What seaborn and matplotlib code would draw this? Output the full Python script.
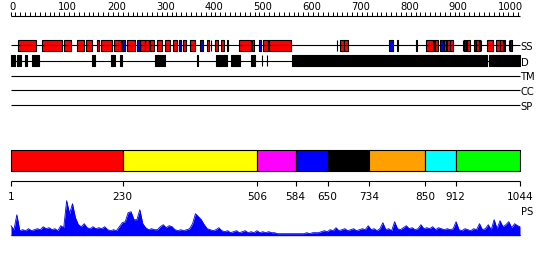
import numpy as np
import matplotlib
matplotlib.use("Agg")
import matplotlib.pyplot as plt
import matplotlib.transforms as mtrans
import seaborn as sns

# ---------------- data ----------------
seq_len = 1044
ruler_labels = [0, 100, 200, 300, 400, 500, 600, 700, 800, 900, 1000]

helix_start = [16, 64, 110, 136, 155, 177, 186, 213, 238, 266, 276, 285, 300, 317, 333, 354, 368, 402, 410,
               420, 431, 468, 494, 518, 530, 669, 675, 684, 792, 831, 851, 868, 870, 888, 894, 901, 927,
               936, 954, 964, 976, 995, 1003, 1012, 1021]
helix_end = [52, 106, 124, 150, 168, 182, 207, 226, 255, 275, 284, 293, 310, 327, 342, 359, 378, 407, 411,
             426, 438, 492, 499, 527, 575, 670, 683, 692, 793, 832, 866, 869, 876, 893, 900, 907, 928,
             942, 959, 965, 988, 1002, 1010, 1013, 1022]
strand_start = [229, 259, 345, 388, 443, 509, 776, 880, 929, 950, 959, 1023]
strand_end = [235, 265, 349, 394, 446, 513, 783, 887, 934, 954, 963, 1028]
disorder_start = [1, 13, 30, 45, 168, 206, 224, 296, 383, 421, 436, 451, 493, 515, 525, 576, 980]
disorder_end = [10, 22, 33, 58, 173, 215, 228, 317, 384, 434, 443, 470, 500, 516, 526, 976, 1044]

track_names = ["SS", "D", "TM", "CC", "SP"]

domain_bounds = [1, 230, 506, 584, 650, 734, 850, 912, 1044]
domain_colors = ["#ff0000", "#ffff00", "#ff00ff", "#0000ff", "#000000", "#ffa000", "#00ffff", "#00ff00"]

ps_values = [10, 6, 21, 5, 6, 5, 7, 5, 6, 7, 6, 9, 7, 8, 6, 7, 5, 10, 8, 35,
             22, 32, 18, 11, 9, 12, 8, 7, 9, 7, 8, 7, 9, 6, 5, 6, 5, 9, 13, 14,
             23, 24, 16, 16, 26, 12, 8, 6, 7, 6, 6, 9, 11, 8, 10, 9, 6, 5, 6, 5,
             6, 7, 12, 22, 19, 16, 11, 7, 6, 5, 6, 8, 5, 4, 5, 3, 4, 5, 3, 4,
             5, 3, 4, 3, 5, 3, 4, 3, 4, 3, 3, 2, 2, 2, 2, 2, 2, 2, 2, 2,
             2, 3, 2, 3, 3, 3, 4, 5, 4, 6, 5, 8, 5, 6, 7, 5, 6, 7, 5, 6,
             7, 6, 10, 6, 7, 5, 7, 13, 6, 7, 5, 14, 7, 6, 8, 10, 7, 8, 6, 7,
             11, 7, 8, 7, 9, 6, 8, 7, 6, 7, 6, 7, 14, 6, 5, 7, 6, 5, 7, 6,
             12, 6, 7, 11, 6, 16, 7, 15, 9, 11, 14, 8, 12, 10, 9]
ps_pos = np.append(np.arange(1, 1040, 6), seq_len)

# ---------------- style ----------------
sns.set_theme(style="white")
plt.rcParams["font.family"] = ["DejaVu Sans"]

W, H = 550, 260
fig = plt.figure(figsize=(W / 100, H / 100), dpi=100)

# pixel mapping: residue 1 -> x=11px, residue 1044 -> x=520px
px_per_res = 509 / (seq_len - 1)
x0 = 1 - 11 / px_per_res
x1 = 1 + (W - 11) / px_per_res

ax = fig.add_axes([0, 0, 1, 1])
ax.set_xlim(x0, x1)
ax.set_ylim(H, 0)
ax.axis("off")

lw = 0.8

# ---------------- ruler ----------------
ax.hlines(15.5, 0, seq_len, color="black", lw=lw)
ax.vlines(np.arange(0, seq_len, 10), 12.0, 15.5, color="black", lw=0.7)
lbl_tr = mtrans.offset_copy(ax.transData, fig=fig, x=-1.0, y=0, units="dots")
for v in ruler_labels:
    ax.text(v, 10, str(v), ha="left", va="baseline", fontsize=7.2, color="black", transform=lbl_tr)

# ---------------- tracks ----------------
track_y = [45, 60.5, 75.5, 90, 104.5]
for y in track_y:
    ax.hlines(y, 1, seq_len, color="black", lw=lw)

# SS track
ss_top, ss_h = 40, 10.5
ax.broken_barh([(s, e - s) for s, e in zip(helix_start, helix_end)], (ss_top, ss_h),
               facecolors="#ff0000", edgecolors="black", linewidth=lw)
ax.broken_barh([(s, e - s) for s, e in zip(strand_start, strand_end)], (ss_top, ss_h),
               facecolors="#0000ff", edgecolors="black", linewidth=lw)
# Disorder track
ax.broken_barh([(s, e - s) for s, e in zip(disorder_start, disorder_end)], (55, 11),
               facecolors="black", edgecolors="black", linewidth=lw)

name_tr = mtrans.offset_copy(ax.transData, fig=fig, x=0.5, y=0, units="dots")
name_base = [50, 65.5, 80, 95, 109.5]
for name, yb in zip(track_names, name_base):
    ax.text(seq_len, yb, name, ha="left", va="baseline", fontsize=7.2, color="black", transform=name_tr)

# ---------------- domain bar ----------------
segs = [(domain_bounds[i], domain_bounds[i + 1] - domain_bounds[i]) for i in range(len(domain_colors))]
ax.broken_barh(segs, (150, 20.5), facecolors=domain_colors, edgecolors="black", linewidth=lw)

ax.hlines(181, 1, seq_len, color="black", lw=lw)
ax.vlines(domain_bounds, 181, 185.5, color="black", lw=lw)
for b in domain_bounds:
    ax.text(b, 199.5, str(b), ha="center", va="baseline", fontsize=7.6, color="black")

ax.text(seq_len, 215, "PS", ha="left", va="baseline", fontsize=7.2, color="black", transform=name_tr)

# ---------------- PS profile ----------------
base_px = 235.7
ax2 = fig.add_axes([0, (H - base_px) / H, 1, 40 / H])
ax2.set_xlim(x0, x1)
ax2.set_ylim(0, 40)
ax2.axis("off")
ax2.fill_between(ps_pos, 0, ps_values, color="#0000ff", linewidth=0)
sns.lineplot(x=ps_pos, y=ps_values, ax=ax2, color="#0000ff", linewidth=0.6)
ax2.hlines(0.3, 1, seq_len, color="#0000ff", lw=1.0)

fig.savefig("out.png", dpi=100)
